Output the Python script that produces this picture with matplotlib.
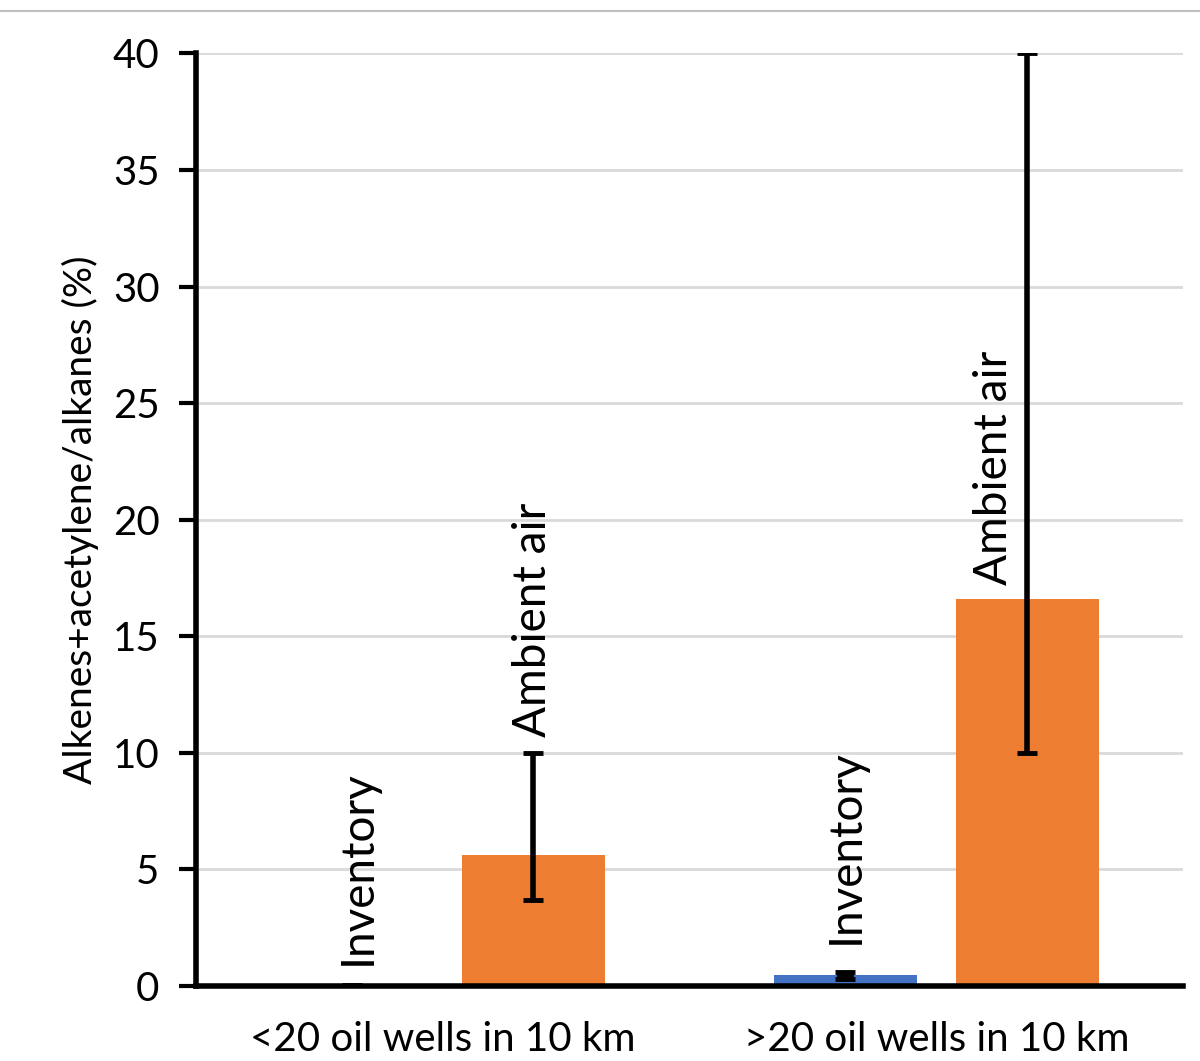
import numpy as np
import matplotlib.pyplot as plt
from matplotlib.lines import Line2D

groups = ["<20 oil wells in 10 km", ">20 oil wells in 10 km"]
series = ["Inventory", "Ambient air"]
inventory = [0.0, 0.47]
inventory_lo = [0.0, 0.32]
inventory_hi = [0.05, 0.62]
ambient = [5.62, 16.6]
ambient_lo = [3.7, 10.0]
ambient_hi = [10.0, 40.0]
yticks = [0, 5, 10, 15, 20, 25, 30, 35, 40]

plt.rcParams['font.family'] = ['Lato', 'DejaVu Sans']

fig = plt.figure(figsize=(12, 10.61), dpi=100)
ax = fig.add_axes([0.163, 0.0707, 0.823, 0.879])

x = np.arange(len(groups))
off = 0.184
w = 0.29
colors = ['#4472c4', '#ed7d31']

ax.bar(x - off, inventory, w, color=colors[0], zorder=2)
ax.bar(x + off, ambient, w, color=colors[1], zorder=2)

for xs, vals, lo, hi, lw in [(x - off, inventory, inventory_lo, inventory_hi, 12),
                             (x + off, ambient, ambient_lo, ambient_hi, 4)]:
    v = np.array(vals)
    err = [np.maximum(v - np.array(lo), 0), np.maximum(np.array(hi) - v, 0)]
    ax.errorbar(xs, v, yerr=err, fmt='none', ecolor='black', elinewidth=lw,
                capsize=7, capthick=3.5, zorder=3)

# in-chart series labels
lab_pos = [(x[0] - off + 0.012, 0.9, 'Inventory'), (x[0] + off, 10.7, 'Ambient air'),
           (x[1] - off, 1.8, 'Inventory'), (x[1] + off - 0.067, 17.2, 'Ambient air')]
for xp, yp, t in lab_pos:
    ax.text(xp, yp, t, rotation=90, ha='center', va='bottom', fontsize=33, color='black')

ax.set_xlim(-0.5, 1.5)
ax.set_ylim(0, 40)
ax.set_yticks(yticks)
ax.set_xticks(x)
ax.set_xticklabels(groups, fontsize=29)
ax.tick_params(axis='x', length=0, pad=25)
ax.tick_params(axis='y', labelsize=29, width=3, length=12, direction='out', pad=14)
ax.set_ylabel('Alkenes+acetylene/alkanes (%)', fontsize=28, labelpad=10)
ax.yaxis.grid(True, color='#d9d9d9', linewidth=2, zorder=0)
ax.set_axisbelow(True)
for s in ['top', 'right']:
    ax.spines[s].set_visible(False)
ax.spines['left'].set_linewidth(4)
ax.spines['bottom'].set_linewidth(4)

fig.add_artist(Line2D([0, 1], [1 - 11 / 1061, 1 - 11 / 1061], color='#c0c0c0', linewidth=1.5))

fig.savefig('out.png', dpi=100)
